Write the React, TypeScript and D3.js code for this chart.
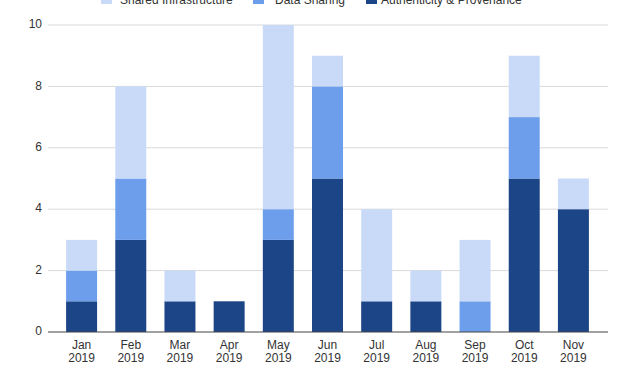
import React from "react";
import * as d3 from "d3";

const months = ["Jan", "Feb", "Mar", "Apr", "May", "Jun", "Jul", "Aug", "Sep", "Oct", "Nov"];
const year = "2019";
const authenticity = [1, 3, 1, 1, 3, 5, 1, 1, 0, 5, 4];
const dataSharing = [1, 2, 0, 0, 1, 3, 0, 0, 1, 2, 0];
const sharedInfra = [1, 3, 1, 0, 6, 1, 3, 1, 2, 2, 1];
const seriesNames = ["Shared Infrastructure", "Data Sharing", "Authenticity & Provenance"];
const yTicks = [0, 2, 4, 6, 8, 10];

const colors: Record<string, string> = {
  "Authenticity & Provenance": "#1c4587",
  "Data Sharing": "#6d9eeb",
  "Shared Infrastructure": "#c9daf8",
};

export default function App() {
  const W = 640, H = 380;
  const rows = months.map((m, i) => ({
    month: m,
    "Authenticity & Provenance": authenticity[i],
    "Data Sharing": dataSharing[i],
    "Shared Infrastructure": sharedInfra[i],
  }));
  const keys = ["Authenticity & Provenance", "Data Sharing", "Shared Infrastructure"];
  const stack = d3.stack<any>().keys(keys)(rows);
  const x = d3.scaleBand().domain(months).range([57, 598]).paddingInner(0.37).paddingOuter(0.185);
  const y = d3.scaleLinear().domain([0, 10]).range([332, 25]);
  const font = "Arial, 'Liberation Sans', sans-serif";

  const legendItems = [
    { name: seriesNames[0], sx: 101, tx: 120 },
    { name: seriesNames[1], sx: 253, tx: 275 },
    { name: seriesNames[2], sx: 366, tx: 381 },
  ];

  return (
    <svg width={W} height={H} style={{ position: "absolute", left: 0, top: 0, background: "#fff" }} fontFamily={font}>
      <rect width={W} height={H} fill="#fff" />
      {legendItems.map((l) => (
        <g key={l.name}>
          <rect x={l.sx} y={-8} width={11} height={12} fill={colors[l.name]} />
          <text x={l.tx} y={4} fontSize={12} fill="#333">{l.name}</text>
        </g>
      ))}
      {yTicks.map((t) => (
        <g key={t}>
          {t !== 0 && <line x1={48} x2={608} y1={y(t)} y2={y(t)} stroke="#d9d9d9" strokeWidth={1} />}
          <text x={42} y={y(t)} fontSize={12} fill="#333" textAnchor="end" dominantBaseline="middle">{t}</text>
        </g>
      ))}
      {stack.map((s) => (
        <g key={s.key} fill={colors[s.key]}>
          {s.map((d, i) =>
            d[1] > d[0] ? (
              <rect key={i} x={x(months[i])} width={x.bandwidth()} y={y(d[1])} height={y(d[0]) - y(d[1])} />
            ) : null
          )}
        </g>
      ))}
      <line x1={48} x2={608} y1={y(0)} y2={y(0)} stroke="#444" strokeWidth={1.2} />
      {months.map((m) => (
        <text key={m} x={(x(m) as number) + x.bandwidth() / 2} fontSize={12} fill="#333" textAnchor="middle">
          <tspan x={(x(m) as number) + x.bandwidth() / 2} y={349}>{m}</tspan>
          <tspan x={(x(m) as number) + x.bandwidth() / 2} y={362}>{year}</tspan>
        </text>
      ))}
    </svg>
  );
}
